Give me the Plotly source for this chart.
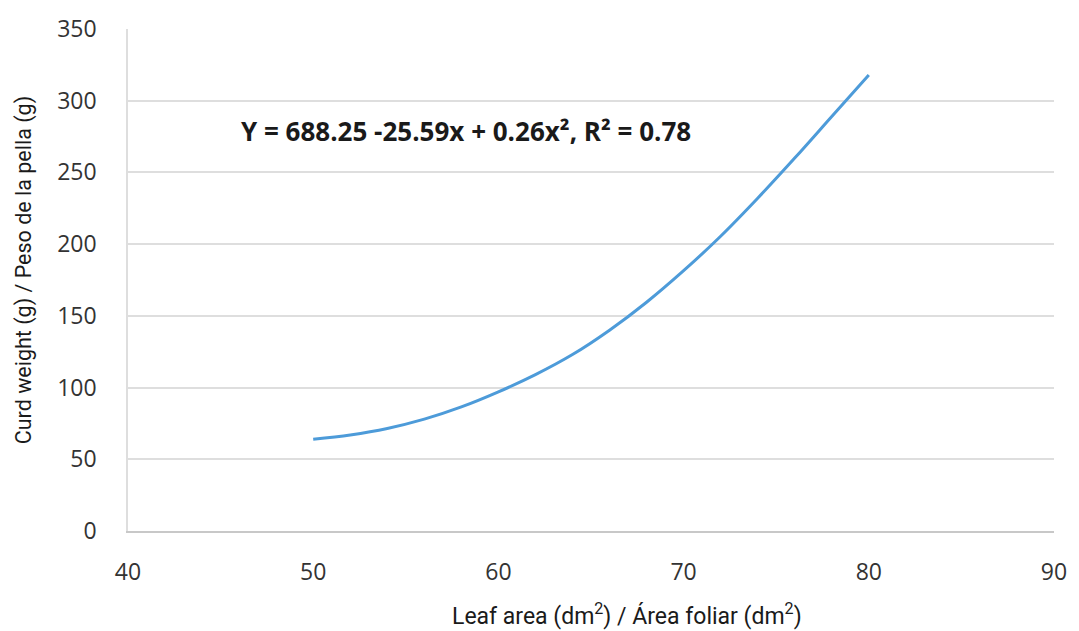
import plotly.graph_objects as go

leaf_area = [50, 52, 54, 56, 58, 60, 62, 64, 66, 68, 70, 72, 74, 76, 78, 80]
curd_weight = [64, 67, 71.5, 78, 86.5, 97, 109, 123, 140, 159.5, 181.5, 205.5, 232, 260, 289, 318]

x_ticks = [40, 50, 60, 70, 80, 90]
y_ticks = [0, 50, 100, 150, 200, 250, 300, 350]
equation = "Y = 688.25 -25.59x + 0.26x², R² = 0.78"
x_title = "Leaf area (dm<sup>2</sup>) / Área foliar (dm<sup>2</sup>)"
y_title = "Curd weight (g) / Peso de la pella (g)"

fig = go.Figure()
fig.add_trace(go.Scatter(
    x=leaf_area, y=curd_weight, mode="lines",
    line=dict(color="#4d9bd9", width=3, shape="spline", smoothing=1.0),
    showlegend=False, hoverinfo="skip"))

fig.add_annotation(x=46.0, y=279, xref="x", yref="y", text="<b>" + equation + "</b>",
                   showarrow=False, xanchor="left", yanchor="middle",
                   font=dict(family="Open Sans, Noto Sans, sans-serif", size=26, color="#1a1a1a"))

title_font_x = dict(family="Roboto, sans-serif", size=23, color="#1a1a1a")
title_font_y = dict(family="Roboto, sans-serif", size=21.5, color="#1a1a1a")
fig.add_annotation(x=0.5386, y=-0.166, xref="paper", yref="paper", text=x_title,
                   showarrow=False, xanchor="center", yanchor="middle", font=title_font_x)
fig.add_annotation(x=-0.112, y=0.52, xref="paper", yref="paper", text=y_title, textangle=-90,
                   showarrow=False, xanchor="center", yanchor="middle", font=title_font_y)

tick_font = dict(family="Open Sans, Noto Sans, sans-serif", size=23, color="#333333")

fig.update_layout(
    width=1079, height=631,
    margin=dict(l=128, r=19, t=25, b=100),
    paper_bgcolor="white", plot_bgcolor="white",
    xaxis=dict(range=[40, 90], tickvals=x_ticks, ticktext=[str(v) for v in x_ticks],
               showgrid=False, zeroline=False, showline=True, linecolor="#c8c8c8", linewidth=1.5,
               ticks="outside", ticklen=20, tickcolor="rgba(0,0,0,0)",
               tickfont=tick_font),
    yaxis=dict(range=[0, 350], tickvals=y_ticks, ticktext=[str(v) for v in y_ticks],
               showgrid=True, gridcolor="#dedede", gridwidth=1.5, zeroline=False,
               showline=True, linecolor="#dedede", linewidth=1.5,
               ticks="outside", ticklen=25, tickcolor="rgba(0,0,0,0)",
               tickfont=tick_font),
)

fig.write_html("out.html")
